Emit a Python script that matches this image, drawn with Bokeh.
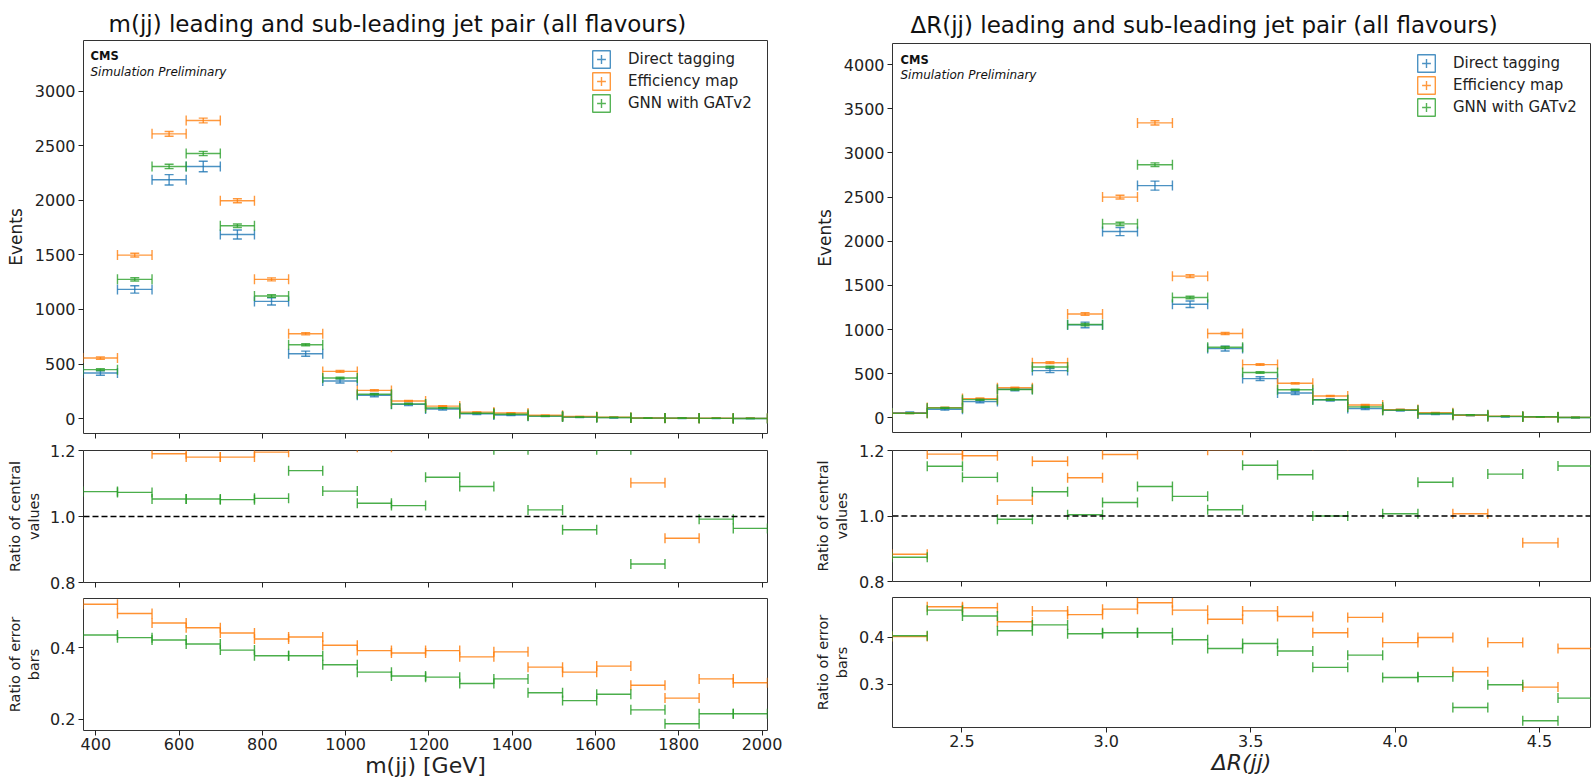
import numpy as np
from bokeh.plotting import figure
from bokeh.layouts import row, column
from bokeh.models import (ColumnDataSource, Span, Label, Legend, LegendItem,
                          FixedTicker, Range1d, NumeralTickFormatter)
from bokeh.embed import file_html
from bokeh.resources import INLINE

FONT = "DejaVu Sans"
BLUE, ORANGE, GREEN = "#1f77b4", "#ff7f0e", "#2ca02c"
SERIES = ["Direct tagging", "Efficiency map", "GNN with GATv2"]

# ---------------- m(jj) ----------------
m_edges = [370, 452, 535, 617, 699, 781, 863, 945, 1028, 1110, 1192,
           1274, 1356, 1438, 1521, 1603, 1685, 1767, 1849, 1931, 2013]
m_direct = [418, 1184, 2188, 2310, 1687, 1074, 595, 345, 215, 131,
            88, 45, 33, 23, 15, 9, 6, 4, 3, 2]
m_direct_err = [20, 34, 47, 48, 41, 33, 24, 19, 15, 11,
                9.4, 6.7, 5.7, 4.8, 3.9, 3.0, 2.4, 2.0, 1.7, 1.4]
m_effmap = [555, 1498, 2609, 2731, 1996, 1276, 778, 433, 259, 162,
            115, 60, 52, 31, 20, 13, 6.6, 3.7, 4, 2.6]
m_gnn = [449, 1276, 2310, 2429, 1767, 1123, 677, 372, 224, 135,
         98, 49, 40, 23.5, 14.4, 11, 5.1, 5, 3, 1.9]
m_ratio_eff = [1.33, 1.27, 1.19, 1.18, 1.18, 1.195, 1.31, 1.26, 1.21, 1.24,
               1.31, 1.33, 1.58, 1.35, 1.33, 1.44, 1.102, 0.934, 1.33, 1.30]
m_ratio_gnn = [1.0755, 1.073, 1.053, 1.053, 1.051, 1.055, 1.139, 1.077, 1.040, 1.033,
               1.119, 1.091, 1.202, 1.020, 0.960, 1.202, 0.856, 1.25, 0.992, 0.964]
m_err_ratio_eff = [0.523, 0.497, 0.470, 0.457, 0.442, 0.425, 0.431, 0.4075, 0.3925, 0.386,
                   0.3925, 0.375, 0.389, 0.346, 0.332, 0.349, 0.295, 0.259, 0.313, 0.302]
m_err_ratio_gnn = [0.4366, 0.429, 0.4225, 0.411, 0.394, 0.378, 0.378, 0.353, 0.332, 0.321,
                   0.318, 0.300, 0.313, 0.274, 0.252, 0.270, 0.226, 0.187, 0.215, 0.215]

# ---------------- DeltaR(jj) ----------------
dr_edges = [2.259, 2.380, 2.502, 2.623, 2.744, 2.866, 2.987, 3.108, 3.229, 3.351, 3.472,
            3.593, 3.715, 3.836, 3.957, 4.079, 4.200, 4.321, 4.442, 4.564, 4.685]
dr_direct = [60, 98, 185, 325, 536, 1053, 2110, 2630, 1287, 785,
             445, 283, 205, 106, 87, 45, 30, 15, 11, 4]
dr_direct_err = [7.7, 9.9, 13.6, 18, 23, 32, 46, 51, 36, 28,
                 21, 17, 14, 10, 9.3, 6.7, 5.5, 3.9, 3.3, 2]
dr_effmap = [53, 117, 219, 341, 625, 1176, 2500, 3340, 1605, 955,
             604, 392, 249, 147, 94, 60, 30, 20, 10, 6]
dr_gnn = [52, 113, 207, 322, 576, 1057, 2197, 2867, 1364, 800,
          514, 319, 205, 125, 88, 50, 35, 17, 13, 4.6]
dr_ratio_eff = [0.883, 1.189, 1.184, 1.0485, 1.167, 1.117, 1.188, 1.27, 1.247, 1.201,
                1.357, 1.385, 1.215, 1.387, 1.25, 1.33, 1.007, 1.33, 0.918, 1.5]
dr_ratio_gnn = [0.874, 1.152, 1.118, 0.990, 1.074, 1.004, 1.041, 1.090, 1.060, 1.019,
                1.155, 1.126, 1.000, 1.25, 1.007, 1.103, 1.25, 1.128, 1.25, 1.1525]
dr_err_ratio_eff = [0.402, 0.466, 0.4636, 0.4336, 0.457, 0.449, 0.4607, 0.4743, 0.4586, 0.439,
                    0.457, 0.445, 0.410, 0.443, 0.389, 0.400, 0.3264, 0.389, 0.2936, 0.3764]
dr_err_ratio_gnn = [0.4036, 0.4586, 0.446, 0.4143, 0.427, 0.408, 0.410, 0.410, 0.395, 0.3764,
                    0.387, 0.371, 0.336, 0.3621, 0.3143, 0.316, 0.250, 0.2986, 0.2214, 0.270]


def style(p, tick_size="16px"):
    p.outline_line_color = "#333333"
    p.outline_line_width = 1
    p.xgrid.visible = False
    p.ygrid.visible = False
    p.background_fill_color = "white"
    p.border_fill_color = "white"
    for ax in p.axis:
        ax.axis_line_color = None
        ax.major_tick_line_color = "#222222"
        ax.major_tick_out = 5
        ax.major_tick_in = 0
        ax.minor_tick_line_color = None
        ax.major_label_text_font = FONT
        ax.major_label_text_font_size = tick_size
        ax.major_label_text_color = "#222222"
        ax.axis_label_text_font = FONT
        ax.axis_label_text_font_style = "normal"
        ax.axis_label_text_color = "#222222"
    p.yaxis.major_label_standoff = 3


def hide_xlabels(p):
    p.xaxis.major_label_text_color = None
    p.xaxis.major_label_standoff = 0


def draw_bins(p, edges, vals, errs, color, alpha=0.8):
    e = np.asarray(edges, dtype=float)
    v = np.asarray(vals, dtype=float)
    lo, hi = e[:-1], e[1:]
    c = 0.5 * (lo + hi)
    d = dict(lo=lo, hi=hi, c=c, y=v)
    if errs is not None:
        er = np.asarray(errs, dtype=float)
        d["ylo"] = v - er
        d["yhi"] = v + er
    src = ColumnDataSource(d)
    kw = dict(line_color=color, line_alpha=alpha, line_width=1.4)
    p.segment("lo", "y", "hi", "y", source=src, **kw)
    p.scatter("lo", "y", marker="dash", angle=np.pi / 2, size=10, source=src, **kw)
    p.scatter("hi", "y", marker="dash", angle=np.pi / 2, size=10, source=src, **kw)
    if errs is not None:
        p.segment("c", "ylo", "c", "yhi", source=src, **kw)
        p.scatter("c", "ylo", marker="dash", size=9, source=src, **kw)
        p.scatter("c", "yhi", marker="dash", size=9, source=src, **kw)


def make_column(edges, direct, direct_err, effmap, gnn, r_eff, r_gnn, er_eff, er_gnn,
                title, xlabel, xlabel_style, width, bl, br, geo, xr, ytop, yticks_top,
                ybot, yticks_bot, xticks, xfmt, title_standoff, title_offset,
                leg_xy, cms_xy, ax_std):
    (t_top, t_frame, t_bot), (m_top, m_frame, m_bot), (b_top, b_frame, b_bot) = geo
    # ---- top panel
    p1 = figure(width=width, height=t_top + t_frame + t_bot,
                x_range=Range1d(*xr), y_range=Range1d(*ytop),
                output_backend="svg", toolbar_location=None,
                min_border_left=bl, min_border_right=br,
                min_border_top=t_top, min_border_bottom=t_bot)
    style(p1)
    p1.title.text = title
    p1.title.text_font = FONT
    p1.title.text_font_size = "23px"
    p1.title.text_font_style = "normal"
    p1.title.text_color = "#111111"
    p1.title.align = "left"
    p1.title.offset = title_offset
    p1.title.standoff = title_standoff
    p1.xaxis.ticker = FixedTicker(ticks=xticks)
    hide_xlabels(p1)
    p1.yaxis.ticker = FixedTicker(ticks=yticks_top)
    p1.yaxis.axis_label = "Events"
    p1.yaxis.axis_label_text_font_size = "17px"
    p1.yaxis.axis_label_standoff = 6
    e_err = np.asarray(er_eff) * np.asarray(direct_err)
    g_err = np.asarray(er_gnn) * np.asarray(direct_err)
    draw_bins(p1, edges, direct, direct_err, BLUE)
    draw_bins(p1, edges, effmap, e_err, ORANGE)
    draw_bins(p1, edges, gnn, g_err, GREEN)
    items = []
    for name, col in zip(SERIES, [BLUE, ORANGE, GREEN]):
        rb = p1.rect(x=[np.nan], y=[np.nan], width=1, height=1, fill_color=None,
                     line_color=col, line_alpha=0.8, line_width=1.4)
        rc = p1.scatter(x=[np.nan], y=[np.nan], marker="cross", size=10, line_color=col,
                        line_alpha=0.8, line_width=1.4)
        items.append(LegendItem(label=name, renderers=[rb, rc]))
    leg = Legend(items=items, location=leg_xy, margin=0, padding=0,
                 glyph_width=22, glyph_height=22, label_height=22, spacing=0,
                 label_standoff=16,
                 label_text_font=FONT, label_text_font_size="15px",
                 label_text_color="#222222", border_line_color=None,
                 background_fill_alpha=0)
    p1.add_layout(leg, "center")
    p1.add_layout(Label(x=cms_xy[0], y=cms_xy[1], x_units="screen", y_units="screen",
                        text="CMS", text_font=FONT, text_font_style="bold",
                        text_font_size="11.5px", text_color="#111111",
                        text_baseline="alphabetic"))
    p1.add_layout(Label(x=cms_xy[0], y=cms_xy[2], x_units="screen", y_units="screen",
                        text="Simulation Preliminary", text_font=FONT,
                        text_font_style="italic", text_font_size="12px",
                        text_color="#111111", text_baseline="alphabetic"))

    # ---- middle ratio panel
    p2 = figure(width=width, height=m_top + m_frame + m_bot,
                x_range=p1.x_range, y_range=Range1d(0.8, 1.2),
                output_backend="svg", toolbar_location=None,
                min_border_left=bl, min_border_right=br,
                min_border_top=m_top, min_border_bottom=m_bot)
    style(p2)
    p2.xaxis.ticker = FixedTicker(ticks=xticks)
    hide_xlabels(p2)
    p2.yaxis.ticker = FixedTicker(ticks=[0.8, 1.0, 1.2])
    p2.yaxis.formatter = NumeralTickFormatter(format="0.0")
    p2.yaxis.axis_label = "Ratio of central\nvalues"
    p2.yaxis.axis_label_text_font_size = "14.5px"
    p2.yaxis.axis_label_standoff = ax_std
    p2.add_layout(Span(location=1.0, dimension="width", line_color="black",
                       line_dash="6 3", line_width=1.5))
    draw_bins(p2, edges, r_eff, None, ORANGE, alpha=0.85)
    draw_bins(p2, edges, r_gnn, None, GREEN, alpha=0.85)

    # ---- bottom error ratio panel
    p3 = figure(width=width, height=b_top + b_frame + b_bot,
                x_range=p1.x_range, y_range=Range1d(*ybot),
                output_backend="svg", toolbar_location=None,
                min_border_left=bl, min_border_right=br,
                min_border_top=b_top, min_border_bottom=b_bot)
    style(p3)
    p3.xaxis.ticker = FixedTicker(ticks=xticks)
    if xfmt:
        p3.xaxis.formatter = NumeralTickFormatter(format=xfmt)
    p3.xaxis.major_label_standoff = 2
    p3.xaxis.axis_label = xlabel
    p3.xaxis.axis_label_text_font_size = "22px"
    p3.xaxis.axis_label_text_font_style = xlabel_style
    p3.xaxis.axis_label_standoff = 0
    p3.yaxis.ticker = FixedTicker(ticks=yticks_bot)
    p3.yaxis.formatter = NumeralTickFormatter(format="0.0")
    p3.yaxis.axis_label = "Ratio of error\nbars"
    p3.yaxis.axis_label_text_font_size = "14.5px"
    p3.yaxis.axis_label_standoff = ax_std
    draw_bins(p3, edges, er_eff, None, ORANGE, alpha=0.85)
    draw_bins(p3, edges, er_gnn, None, GREEN, alpha=0.85)
    return column(p1, p2, p3)


left = make_column(m_edges, m_direct, m_direct_err, m_effmap, m_gnn,
                   m_ratio_eff, m_ratio_gnn, m_err_ratio_eff, m_err_ratio_gnn,
                   "m(jj) leading and sub-leading jet pair (all flavours)",
                   "m(jj) [GeV]", "normal", 800, 83, 33,
                   ((40, 393, 6), (11, 132, 11), (5, 132, 50)),
                   (370.4, 2013.2), (-136, 3464), [0, 500, 1000, 1500, 2000, 2500, 3000],
                   (0.168, 0.539), [0.2, 0.4],
                   [400, 600, 800, 1000, 1200, 1400, 1600, 1800, 2000], None,
                   8, 25, (507, 319), (7, 378, 362), 5)

right = make_column(dr_edges, dr_direct, dr_direct_err, dr_effmap, dr_gnn,
                    dr_ratio_eff, dr_ratio_gnn, dr_err_ratio_eff, dr_err_ratio_gnn,
                    "ΔR(jj) leading and sub-leading jet pair (all flavours)",
                    "ΔR(jj)", "italic", 791, 92, 1,
                    ((43, 389, 7), (11, 131, 11), (5, 130, 53)),
                    (2.2597, 4.6766), (-165, 4239),
                    [0, 500, 1000, 1500, 2000, 2500, 3000, 3500, 4000],
                    (0.207, 0.4857), [0.3, 0.4],
                    [2.5, 3.0, 3.5, 4.0, 4.5], "0.0",
                    11, 18, (523, 314), (8, 373, 358), 6)

layout = row(left, right)
open("out.html", "w").write(file_html(layout, INLINE))
